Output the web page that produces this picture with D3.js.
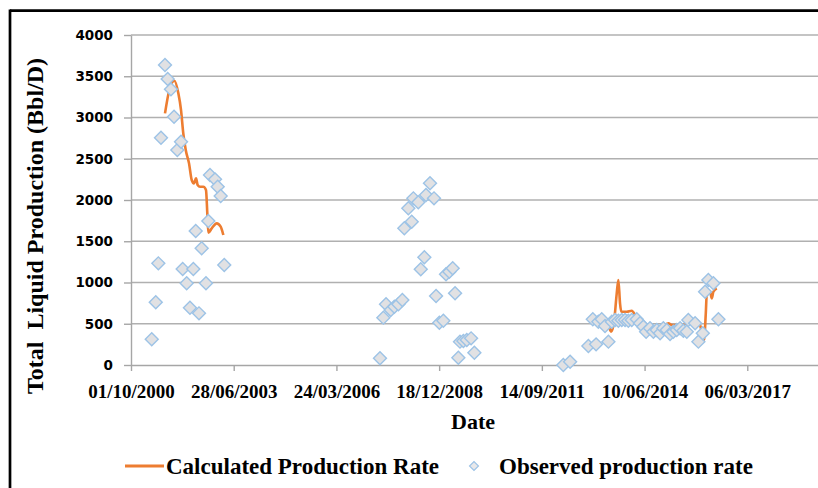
<!DOCTYPE html>
<html>
<head>
<meta charset="utf-8">
<script src="https://cdn.jsdelivr.net/npm/d3@7"></script>
<style>
  body { margin: 0; background: #fff; }
  svg { display: block; }
</style>
</head>
<body>
<svg></svg>
<script>
// observed production rate (Bbl/D)
const obsDates = [
  "2001-04-21","2001-05-30","2001-06-24","2001-07-20","2001-08-28","2001-09-23","2001-10-25","2001-11-24",
  "2001-12-26","2002-01-31","2002-02-16","2002-03-27","2002-04-28","2002-05-31","2002-06-23","2002-07-25",
  "2002-08-20","2002-10-01","2002-10-24","2002-11-09","2002-12-28","2003-01-23","2003-02-21","2003-03-28",
  "2007-05-22","2007-06-24","2007-07-20","2007-09-04","2007-10-09","2007-11-17","2007-12-26","2008-01-14",
  "2008-02-22","2008-03-26","2008-04-11","2008-05-29","2008-06-22","2008-07-27","2008-08-12","2008-09-20",
  "2008-10-29","2008-11-18","2008-12-20","2009-01-28","2009-02-23","2009-03-27","2009-04-29","2009-05-22",
  "2009-06-23","2009-07-09","2009-08-11","2009-09-13","2009-10-25","2009-11-26",
  "2012-04-10","2012-06-15","2012-12-10","2013-01-22","2013-02-23","2013-03-17","2013-04-19","2013-05-21",
  "2013-06-23","2013-07-26","2013-08-27","2013-09-28","2013-10-31","2013-12-02","2014-01-03","2014-02-05",
  "2014-03-26","2014-04-27","2014-05-29","2014-06-25","2014-08-02","2014-09-04","2014-10-07","2014-11-08",
  "2014-12-10","2015-01-12","2015-02-13","2015-03-17","2015-04-19","2015-05-22","2015-06-23","2015-07-26",
  "2015-08-10","2015-10-15","2015-11-16","2015-12-29","2016-01-20","2016-02-21","2016-04-10","2016-05-29"
];
const obsRates = [
  311, 760, 1232, 2755, 3636, 3467, 3341, 3010,
  2606, 2707, 1163, 990, 695, 1163, 1624, 626,
  1414, 990, 1745, 2303, 2250, 2161, 2048, 1212,
  81, 574, 736, 667, 707, 736, 788, 1657,
  1899, 1737, 2020, 1972, 1160, 1305, 2060, 2202,
  2020, 836, 513, 537, 1099, 1131, 1172, 869,
  89, 283, 291, 303, 323, 149,
  0, 40, 230, 554, 250, 525, 554, 473,
  283, 525, 545, 537, 545, 545, 537, 545,
  554, 505, 464, 404, 445, 404, 424, 384,
  445, 424, 376, 404, 424, 445, 416, 404,
  545, 505, 283, 384, 888, 1030, 990, 554
];

// calculated production rate, null = gap between the two periods
const calcDates = [
  "2001-08-28","2001-10-09","2001-11-27","2002-01-05","2002-01-31","2002-02-22","2002-03-18","2002-04-19",
  "2002-05-15","2002-06-06","2002-06-26","2002-07-12","2002-08-04","2002-09-05","2002-10-01","2002-10-14",
  "2002-10-24","2002-11-26","2003-01-13","2003-02-21","2003-03-19",
  "2008-01-01",
  "2013-06-29","2013-07-19","2013-08-17","2013-09-12","2013-09-28","2013-10-14","2013-10-27","2013-12-19",
  "2014-02-05","2014-03-09","2014-04-11","2014-05-29","2014-08-02","2014-11-08","2015-01-28","2015-03-02",
  "2015-05-22","2015-07-26","2015-10-31","2015-12-02","2016-01-10","2016-01-27","2016-02-06","2016-03-09",
  "2016-03-25","2016-04-10","2016-05-13"
];
const calcRates = [
  3050, 3333, 3446, 3293, 3090, 2808, 2606, 2444,
  2242, 2202, 2263, 2182, 2161, 2161, 2121, 1838,
  1604, 1656, 1717, 1677, 1576,
  null,
  464, 404, 525, 869, 1030, 748, 646, 646,
  658, 606, 525, 485, 445, 445, 505, 485,
  485, 505, 545, 485, 303, 626, 869, 888,
  808, 888, 929
];

const yTicks = [0, 500, 1000, 1500, 2000, 2500, 3000, 3500, 4000];
const axisStart = "2000-10-01";   // Excel date axis, major unit 1000 days
const seriesNames = ["Calculated Production Rate", "Observed production rate"];

const width = 818, height = 488;
const parse = d3.timeParse("%Y-%m-%d");
const fmt = d3.timeFormat("%d/%m/%Y");
const serif = "'Liberation Serif', 'Times New Roman', serif";

const start = parse(axisStart);
const xTicks = d3.range(0, 7).map(i => d3.timeDay.offset(start, i * 1000));

const x = d3.scaleTime()
  .domain([start, d3.timeDay.offset(start, 7000)])
  .range([131, 850]);
const y = d3.scaleLinear().domain([0, 4000]).range([365, 35]);

const svg = d3.select("svg").attr("width", width).attr("height", height);

// frame of the original figure
svg.append("line").attr("x1", 10).attr("x2", width).attr("y1", 10.7).attr("y2", 10.7)
  .attr("stroke", "#000").attr("stroke-width", 2.7);
svg.append("line").attr("x1", 10).attr("x2", 10).attr("y1", 9.4).attr("y2", height)
  .attr("stroke", "#000").attr("stroke-width", 2.7);

// gridlines
svg.append("g")
  .selectAll("line")
  .data(yTicks.filter(d => d > 0))
  .enter().append("line")
    .attr("x1", 131).attr("x2", 850)
    .attr("y1", d => y(d)).attr("y2", d => y(d))
    .attr("stroke", "#b0b0b0")
    .attr("stroke-width", 1.4);

const yAxis = svg.append("g")
  .attr("transform", "translate(131,0)")
  .call(d3.axisLeft(y).tickValues(yTicks).tickFormat(d3.format("d"))
    .tickSize(7).tickSizeOuter(0).tickPadding(11));
yAxis.selectAll("text")
  .attr("font-family", "'DejaVu Sans', sans-serif")
  .attr("font-weight", "bold")
  .attr("font-size", 13.5)
  .attr("fill", "#000");

const xAxis = svg.append("g")
  .attr("transform", "translate(0,365)")
  .call(d3.axisBottom(x).tickValues(xTicks).tickFormat(fmt).tickSize(6).tickSizeOuter(0));
xAxis.selectAll("text")
  .attr("dy", null)
  .attr("y", 33)
  .attr("font-family", serif)
  .attr("font-weight", "bold")
  .attr("font-size", 19)
  .attr("fill", "#000");

svg.selectAll(".domain, .tick line").attr("stroke", "#a6a6a6").attr("stroke-width", 1.4);

// observed points
const observed = obsDates.map((d, i) => ({ date: parse(d), rate: obsRates[i] }));
const diamond = d3.symbol().type(d3.symbolSquare).size(84);

// calculated line
const calc = calcDates.map((d, i) => ({ date: parse(d), rate: calcRates[i] }));
const line = d3.line()
  .defined(d => d.rate !== null)
  .x(d => x(d.date))
  .y(d => y(d.rate))
  .curve(d3.curveMonotoneX);

svg.append("path")
  .datum(calc)
  .attr("d", line)
  .attr("fill", "none")
  .attr("stroke", "#ed7d31")
  .attr("stroke-width", 2.6)
  .attr("stroke-linejoin", "round");

svg.append("g")
  .selectAll("path")
  .data(observed)
  .enter().append("path")
    .attr("d", diamond)
    .attr("transform", d => `translate(${x(d.date)},${y(d.rate)}) rotate(45)`)
    .attr("fill", "#e1e1e3")
    .attr("stroke", "#9dc3e6")
    .attr("stroke-width", 1.4);

// axis titles
svg.append("text")
  .attr("x", 473).attr("y", 429)
  .attr("text-anchor", "middle")
  .attr("font-family", serif)
  .attr("font-weight", "bold")
  .attr("font-size", 22)
  .text("Date");

svg.append("text")
  .attr("transform", "translate(43,226) rotate(-90)")
  .attr("text-anchor", "middle")
  .attr("font-family", serif)
  .attr("font-weight", "bold")
  .attr("font-size", 24)
  .style("white-space", "pre")
  .text("Total  Liquid Production (Bbl/D)");

// legend
const legend = svg.append("g");
legend.append("line")
  .attr("x1", 125).attr("x2", 164).attr("y1", 466).attr("y2", 466)
  .attr("stroke", "#ed7d31").attr("stroke-width", 3);
legend.append("text")
  .attr("x", 166).attr("y", 474)
  .attr("font-family", serif).attr("font-weight", "bold").attr("font-size", 23)
  .text(seriesNames[0]);
legend.append("path")
  .attr("d", d3.symbol().type(d3.symbolSquare).size(40))
  .attr("transform", "translate(474,466) rotate(45)")
  .attr("fill", "#e8e8ea")
  .attr("stroke", "#9dc3e6")
  .attr("stroke-width", 1.2);
legend.append("text")
  .attr("x", 499).attr("y", 474)
  .attr("font-family", serif).attr("font-weight", "bold").attr("font-size", 23)
  .text(seriesNames[1]);
</script>
</body>
</html>
